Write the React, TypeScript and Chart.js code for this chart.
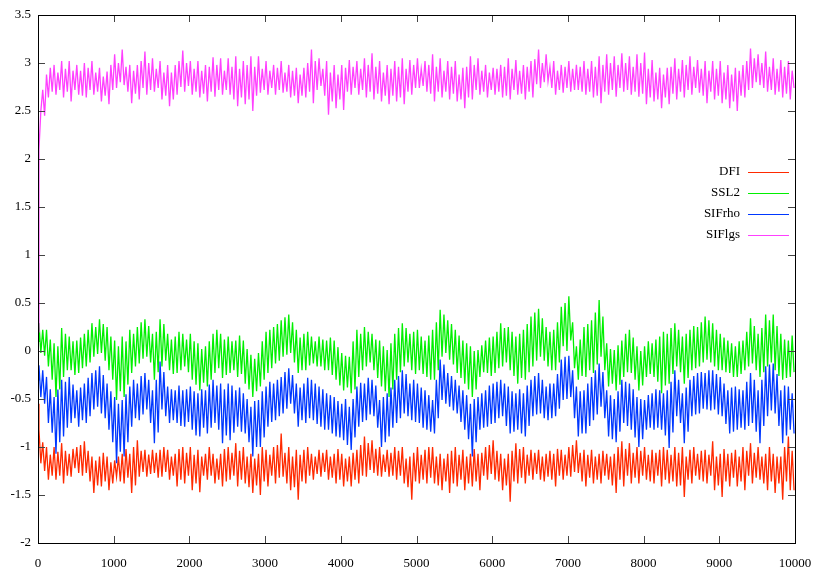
import React, { useEffect, useRef } from "react";
import { Chart, registerables } from "chart.js";

Chart.register(...registerables);

const seriesNames = ["DFI", "SSL2", "SIFrho", "SIFlgs"];
const seriesColors = ["#ff2a00", "#00f000", "#0038ff", "#ff40ff"];
const xTicks = [0, 1000, 2000, 3000, 4000, 5000, 6000, 7000, 8000, 9000, 10000];
const yTicks = [-2, -1.5, -1, -0.5, 0, 0.5, 1, 1.5, 2, 2.5, 3, 3.5];
const blockSize = 100;

// value at step 0 of each series
const startValues = [-0.55, 0.1, -0.3, 0.2];

// per 100-step block, first half: high, low
const dfiA = [
  -0.82, -1.17, -1.0, -1.34, -1.0, -1.34, -0.96, -1.38, -1.07, -1.31, -1.0, -1.27, -0.94, -1.27, -1.1, -1.48, -1.1, -1.41, -1.1, -1.45,
  -1.14, -1.31, -1.07, -1.38, -1.07, -1.48, -0.93, -1.31, -1.03, -1.31, -1.03, -1.27, -1.03, -1.31, -1.03, -1.34, -1.07, -1.41, -1.0, -1.38,
  -1.0, -1.45, -1.03, -1.47, -1.07, -1.34, -1.07, -1.38, -1.07, -1.41, -1.0, -1.34, -0.96, -1.41, -1.0, -1.38, -1.07, -1.48, -1.07, -1.5,
  -1.03, -1.41, -1.0, -1.38, -0.86, -1.31, -1.0, -1.45, -1.03, -1.55, -1.03, -1.38, -1.07, -1.34, -1.03, -1.31, -1.03, -1.34, -1.07, -1.38,
  -1.07, -1.41, -1.1, -1.41, -1.03, -1.38, -0.89, -1.31, -0.93, -1.27, -1.0, -1.31, -1.03, -1.31, -1.0, -1.34, -1.0, -1.38, -1.1, -1.55,
  -1.0, -1.38, -1.03, -1.38, -1.0, -1.38, -1.07, -1.45, -1.07, -1.48, -1.0, -1.41, -1.03, -1.45, -1.07, -1.41, -1.07, -1.45, -1.0, -1.34,
  -0.93, -1.34, -1.07, -1.45, -1.07, -1.57, -0.96, -1.38, -1.0, -1.38, -1.03, -1.34, -1.03, -1.34, -1.07, -1.31, -1.07, -1.41, -1.03, -1.34,
  -1.0, -1.31, -0.93, -1.27, -1.03, -1.41, -1.03, -1.38, -1.07, -1.38, -1.07, -1.34, -1.07, -1.48, -0.94, -1.41, -0.96, -1.38, -1.0, -1.38,
  -1.0, -1.34, -1.03, -1.38, -1.03, -1.41, -1.03, -1.38, -1.0, -1.41, -1.0, -1.52, -1.03, -1.38, -1.07, -1.34, -1.03, -1.38, -0.94, -1.45,
  -1.07, -1.52, -1.07, -1.41, -1.03, -1.41, -1.0, -1.45, -0.96, -1.38, -1.0, -1.34, -1.07, -1.45, -1.07, -1.48, -1.1, -1.55, -0.89, -1.45];
// second half of each block: high, low
const dfiB = [
  -0.95, -1.25, -1.08, -1.3, -1.05, -1.3, -1.04, -1.3, -1.02, -1.22, -0.98, -1.3, -1.04, -1.36, -1.14, -1.4, -1.06, -1.36, -1.16, -1.38,
  -1.1, -1.36, -1.02, -1.32, -1.0, -1.4, -1.04, -1.26, -1.08, -1.28, -1.06, -1.32, -1.0, -1.26, -1.1, -1.3, -1.02, -1.34, -1.06, -1.3,
  -1.08, -1.38, -1.1, -1.3, -1.0, -1.3, -1.12, -1.34, -1.02, -1.36, -1.06, -1.3, -1.04, -1.34, -1.1, -1.42, -1.12, -1.4, -1.0, -1.36,
  -1.08, -1.3, -0.98, -1.32, -1.06, -1.38, -1.1, -1.42, -1.08, -1.36, -1.0, -1.3, -1.1, -1.28, -1.06, -1.26, -1.1, -1.32, -1.02, -1.34,
  -1.12, -1.36, -1.06, -1.34, -0.98, -1.3, -0.96, -1.24, -1.02, -1.3, -1.08, -1.26, -1.06, -1.3, -1.04, -1.3, -1.12, -1.42, -1.06, -1.36,
  -1.08, -1.34, -1.0, -1.32, -1.1, -1.4, -1.12, -1.36, -1.04, -1.38, -1.08, -1.34, -1.1, -1.38, -1.02, -1.36, -1.06, -1.3, -0.98, -1.28,
  -1.04, -1.36, -1.12, -1.4, -1.04, -1.36, -1.02, -1.32, -1.08, -1.3, -1.06, -1.28, -1.1, -1.36, -1.04, -1.34, -1.02, -1.3, -1.08, -1.3,
  -0.98, -1.26, -1.06, -1.36, -1.08, -1.32, -1.1, -1.34, -1.04, -1.3, -1.1, -1.4, -1.0, -1.34, -1.02, -1.3, -1.06, -1.32, -1.04, -1.3,
  -1.08, -1.36, -1.06, -1.3, -1.0, -1.34, -1.08, -1.36, -1.06, -1.4, -1.1, -1.34, -1.0, -1.3, -1.04, -1.36, -1.08, -1.3, -1.1, -1.4,
  -1.02, -1.36, -1.06, -1.32, -1.1, -1.36, -1.04, -1.3, -1.06, -1.32, -1.1, -1.38, -1.0, -1.36, -1.1, -1.38, -1.0, -1.36, -1.04, -1.45];

const ssl2A = [
  0.29, -0.02, 0.22, -0.16, 0.08, -0.48, 0.24, -0.27, 0.15, -0.2, 0.11, -0.23, 0.18, -0.16, 0.29, -0.06, 0.33, -0.02, 0.25, -0.2,
  0.11, -0.51, 0.15, -0.48, 0.22, -0.23, 0.25, -0.13, 0.33, -0.06, 0.18, -0.3, 0.33, -0.16, 0.18, -0.2, 0.15, -0.23, 0.18, -0.16,
  0.18, -0.3, 0.08, -0.41, 0.05, -0.37, 0.18, -0.23, 0.18, -0.28, 0.15, -0.23, 0.11, -0.27, 0.11, -0.34, -0.04, -0.48, -0.02, -0.37,
  0.2, -0.23, 0.25, -0.13, 0.32, -0.06, 0.38, -0.02, 0.22, -0.23, 0.18, -0.2, 0.15, -0.13, 0.15, -0.16, 0.11, -0.2, 0.11, -0.3,
  -0.02, -0.41, -0.06, -0.44, 0.22, -0.27, 0.25, -0.16, 0.18, -0.2, 0.11, -0.37, 0.01, -0.48, 0.18, -0.3, 0.29, -0.16, 0.18, -0.2,
  0.22, -0.2, 0.11, -0.27, 0.22, -0.3, 0.43, -0.06, 0.32, -0.09, 0.22, -0.23, 0.11, -0.34, 0.05, -0.48, 0.01, -0.27, 0.11, -0.23,
  0.15, -0.23, 0.29, -0.16, 0.25, -0.2, 0.15, -0.34, 0.22, -0.3, 0.36, -0.16, 0.44, -0.06, 0.25, -0.16, 0.22, -0.2, 0.46, 0.05,
  0.57, 0.11, 0.05, -0.3, 0.25, -0.27, 0.32, -0.23, 0.53, -0.06, 0.08, -0.37, 0.01, -0.41, 0.11, -0.27, 0.22, -0.23, 0.05, -0.41,
  0.05, -0.27, 0.08, -0.27, 0.15, -0.44, 0.18, -0.34, 0.29, -0.16, 0.15, -0.34, 0.22, -0.2, 0.25, -0.16, 0.36, -0.09, 0.29, -0.16,
  0.18, -0.2, 0.11, -0.23, 0.05, -0.27, 0.11, -0.2, 0.34, -0.13, 0.18, -0.27, 0.38, -0.16, 0.38, -0.2, 0.18, -0.3, 0.11, -0.27];
const ssl2B = [
  0.22, -0.05, 0.12, -0.3, 0.05, -0.4, 0.18, -0.2, 0.1, -0.25, 0.14, -0.18, 0.22, -0.12, 0.25, -0.03, 0.28, -0.1, 0.15, -0.3,
  0.05, -0.42, 0.1, -0.35, 0.18, -0.16, 0.3, -0.08, 0.26, -0.12, 0.2, -0.22, 0.28, -0.1, 0.12, -0.24, 0.2, -0.2, 0.12, -0.22,
  0.1, -0.35, 0.02, -0.33, 0.1, -0.3, 0.22, -0.18, 0.12, -0.25, 0.1, -0.2, 0.16, -0.24, 0.02, -0.4, -0.08, -0.42, 0.1, -0.3,
  0.22, -0.18, 0.28, -0.1, 0.35, -0.04, 0.3, -0.12, 0.14, -0.2, 0.2, -0.15, 0.1, -0.16, 0.12, -0.2, 0.14, -0.25, 0.04, -0.36,
  -0.05, -0.38, 0.1, -0.4, 0.18, -0.2, 0.2, -0.12, 0.12, -0.28, 0.05, -0.42, 0.08, -0.4, 0.24, -0.22, 0.24, -0.12, 0.2, -0.24,
  0.15, -0.24, 0.16, -0.3, 0.3, -0.2, 0.38, -0.02, 0.28, -0.14, 0.16, -0.28, 0.08, -0.4, 0.0, -0.4, 0.06, -0.22, 0.14, -0.26,
  0.2, -0.18, 0.24, -0.12, 0.2, -0.26, 0.18, -0.28, 0.28, -0.22, 0.4, -0.1, 0.34, -0.1, 0.2, -0.2, 0.3, -0.12, 0.5, 0.0,
  0.3, -0.18, 0.12, -0.26, 0.28, -0.2, 0.4, -0.14, 0.36, -0.2, 0.02, -0.34, 0.06, -0.35, 0.18, -0.22, 0.14, -0.3, 0.0, -0.36,
  0.1, -0.24, 0.12, -0.32, 0.2, -0.36, 0.24, -0.24, 0.22, -0.22, 0.18, -0.28, 0.26, -0.18, 0.3, -0.12, 0.32, -0.12, 0.22, -0.2,
  0.14, -0.22, 0.08, -0.27, 0.1, -0.24, 0.2, -0.16, 0.26, -0.2, 0.24, -0.22, 0.32, -0.12, 0.26, -0.26, 0.12, -0.28, 0.16, -0.22];

const sifrhoA = [
  -0.15, -0.48, -0.27, -0.75, -0.48, -1.07, -0.3, -0.89, -0.27, -0.75, -0.41, -0.79, -0.34, -0.75, -0.23, -0.61, -0.16, -0.65, -0.34, -0.82,
  -0.48, -1.17, -0.51, -1.1, -0.37, -0.79, -0.34, -0.72, -0.23, -0.61, -0.41, -0.96, -0.11, -0.61, -0.37, -0.75, -0.41, -0.75, -0.41, -0.79,
  -0.37, -0.82, -0.44, -0.89, -0.41, -0.86, -0.3, -0.75, -0.34, -0.96, -0.34, -0.93, -0.41, -0.79, -0.44, -0.86, -0.58, -1.1, -0.51, -1.0,
  -0.37, -0.79, -0.34, -0.72, -0.27, -0.65, -0.18, -0.55, -0.34, -0.79, -0.34, -0.75, -0.3, -0.72, -0.37, -0.79, -0.44, -0.82, -0.48, -0.89,
  -0.55, -0.93, -0.58, -1.03, -0.37, -0.79, -0.34, -0.72, -0.3, -0.68, -0.51, -1.0, -0.44, -0.89, -0.3, -0.75, -0.2, -0.65, -0.34, -0.72,
  -0.34, -0.75, -0.41, -0.82, -0.51, -0.86, -0.09, -0.51, -0.23, -0.58, -0.3, -0.65, -0.41, -0.82, -0.55, -1.1, -0.48, -0.82, -0.41, -0.79,
  -0.34, -0.75, -0.3, -0.68, -0.37, -0.86, -0.44, -0.82, -0.44, -0.89, -0.3, -0.68, -0.23, -0.65, -0.37, -0.72, -0.34, -0.68, -0.09, -0.51,
  -0.05, -0.48, -0.37, -0.89, -0.41, -0.86, -0.27, -0.72, -0.13, -0.58, -0.41, -0.89, -0.5, -0.95, -0.3, -0.75, -0.34, -0.82, -0.48, -1.0,
  -0.51, -0.82, -0.44, -0.82, -0.41, -0.82, -0.41, -1.01, -0.2, -0.68, -0.44, -0.96, -0.3, -0.68, -0.23, -0.65, -0.23, -0.61, -0.2, -0.61,
  -0.27, -0.68, -0.41, -0.86, -0.37, -0.82, -0.41, -0.82, -0.23, -0.75, -0.41, -0.96, -0.16, -0.68, -0.13, -0.65, -0.41, -0.96, -0.37, -0.82];
const sifrhoB = [
  -0.2, -0.55, -0.4, -0.85, -0.4, -0.95, -0.32, -0.8, -0.35, -0.7, -0.38, -0.72, -0.28, -0.68, -0.2, -0.58, -0.25, -0.7, -0.42, -0.95,
  -0.55, -1.05, -0.45, -0.95, -0.3, -0.7, -0.26, -0.66, -0.3, -0.75, -0.3, -0.85, -0.22, -0.68, -0.4, -0.72, -0.36, -0.78, -0.4, -0.74,
  -0.42, -0.88, -0.4, -0.8, -0.35, -0.8, -0.36, -0.82, -0.4, -0.88, -0.36, -0.85, -0.38, -0.84, -0.5, -0.95, -0.52, -1.0, -0.42, -0.9,
  -0.32, -0.74, -0.3, -0.68, -0.22, -0.6, -0.25, -0.65, -0.38, -0.72, -0.28, -0.7, -0.34, -0.76, -0.4, -0.82, -0.46, -0.86, -0.52, -0.9,
  -0.5, -0.98, -0.5, -0.9, -0.33, -0.74, -0.28, -0.66, -0.36, -0.8, -0.48, -0.95, -0.38, -0.8, -0.26, -0.7, -0.24, -0.68, -0.3, -0.74,
  -0.38, -0.8, -0.46, -0.84, -0.3, -0.7, -0.14, -0.55, -0.26, -0.62, -0.36, -0.74, -0.46, -0.92, -0.5, -0.95, -0.44, -0.8, -0.36, -0.76,
  -0.32, -0.7, -0.34, -0.78, -0.42, -0.84, -0.4, -0.86, -0.36, -0.78, -0.26, -0.66, -0.3, -0.7, -0.34, -0.7, -0.24, -0.6, -0.06, -0.5,
  -0.2, -0.7, -0.42, -0.86, -0.34, -0.78, -0.2, -0.66, -0.22, -0.7, -0.46, -0.92, -0.42, -0.84, -0.32, -0.78, -0.4, -0.9, -0.5, -0.92,
  -0.46, -0.8, -0.4, -0.8, -0.44, -0.88, -0.32, -0.85, -0.3, -0.75, -0.38, -0.84, -0.26, -0.66, -0.22, -0.6, -0.2, -0.62, -0.24, -0.66,
  -0.34, -0.76, -0.38, -0.84, -0.4, -0.8, -0.32, -0.78, -0.3, -0.84, -0.3, -0.78, -0.14, -0.62, -0.24, -0.78, -0.36, -0.88, -0.44, -0.86];

const siflgsA = [
  2.1, 2.5, 2.88, 2.64, 2.98, 2.67, 3.02, 2.64, 3.02, 2.6, 2.98, 2.67, 3.0, 2.64, 3.02, 2.67, 2.95, 2.6, 2.91, 2.57,
  3.09, 2.74, 3.14, 2.77, 2.98, 2.58, 2.98, 2.62, 3.12, 2.67, 3.05, 2.7, 3.02, 2.62, 2.98, 2.55, 2.98, 2.67, 3.13, 2.7,
  3.02, 2.67, 3.02, 2.64, 2.98, 2.6, 3.06, 2.65, 3.05, 2.67, 3.05, 2.67, 3.07, 2.55, 3.02, 2.57, 3.07, 2.5, 3.07, 2.69,
  3.02, 2.67, 2.98, 2.67, 3.02, 2.69, 2.98, 2.64, 2.95, 2.58, 2.95, 2.64, 3.14, 2.58, 3.05, 2.76, 3.02, 2.46, 2.98, 2.53,
  2.98, 2.51, 3.03, 2.67, 3.02, 2.67, 3.05, 2.64, 3.1, 2.62, 3.02, 2.6, 2.98, 2.57, 3.02, 2.6, 3.05, 2.57, 3.03, 2.67,
  3.05, 2.74, 3.02, 2.7, 3.09, 2.6, 3.05, 2.64, 3.02, 2.62, 3.02, 2.6, 2.95, 2.53, 3.07, 2.62, 3.05, 2.67, 2.98, 2.64,
  2.95, 2.67, 2.98, 2.64, 3.05, 2.62, 3.03, 2.67, 2.98, 2.62, 3.02, 2.64, 3.14, 2.74, 3.09, 2.81, 3.02, 2.67, 2.98, 2.69,
  3.02, 2.7, 2.98, 2.72, 3.02, 2.67, 3.02, 2.64, 3.07, 2.58, 3.09, 2.67, 3.07, 2.65, 3.1, 2.7, 3.07, 2.67, 3.09, 2.65,
  3.11, 2.57, 3.03, 2.6, 2.95, 2.53, 2.95, 2.57, 3.05, 2.62, 3.03, 2.64, 3.07, 2.67, 3.03, 2.69, 3.02, 2.58, 3.02, 2.62,
  3.02, 2.58, 2.98, 2.53, 2.95, 2.5, 2.98, 2.64, 3.15, 2.74, 3.09, 2.77, 3.12, 2.7, 3.05, 2.67, 3.03, 2.64, 3.02, 2.62];
const siflgsB = [
  2.72, 2.45, 2.95, 2.7, 2.9, 2.72, 2.94, 2.7, 2.92, 2.72, 2.92, 2.66, 2.95, 2.72, 2.9, 2.7, 2.86, 2.66, 2.98, 2.72,
  3.0, 2.8, 2.96, 2.7, 2.92, 2.68, 3.02, 2.74, 3.0, 2.72, 2.94, 2.74, 2.9, 2.66, 2.9, 2.62, 3.02, 2.75, 3.0, 2.76,
  2.94, 2.7, 2.92, 2.68, 2.96, 2.7, 2.98, 2.72, 2.92, 2.72, 2.96, 2.62, 2.94, 2.64, 2.98, 2.62, 2.96, 2.66, 2.94, 2.72,
  2.92, 2.74, 2.95, 2.72, 2.9, 2.7, 2.92, 2.66, 2.88, 2.66, 3.0, 2.7, 3.02, 2.72, 2.94, 2.66, 2.9, 2.6, 2.88, 2.62,
  2.95, 2.7, 2.96, 2.74, 2.94, 2.72, 2.98, 2.7, 2.96, 2.68, 2.9, 2.66, 2.94, 2.66, 2.96, 2.64, 2.94, 2.7, 2.98, 2.74,
  2.94, 2.76, 2.98, 2.68, 2.96, 2.7, 2.92, 2.7, 2.96, 2.68, 2.88, 2.62, 2.96, 2.64, 2.98, 2.72, 2.92, 2.7, 2.9, 2.72,
  2.94, 2.7, 2.96, 2.66, 2.94, 2.72, 2.92, 2.68, 2.96, 2.7, 3.04, 2.78, 3.0, 2.8, 2.96, 2.74, 2.92, 2.72, 2.96, 2.74,
  2.94, 2.72, 2.96, 2.7, 2.94, 2.7, 2.96, 2.66, 2.98, 2.7, 3.0, 2.72, 2.98, 2.74, 3.0, 2.72, 2.96, 2.7, 3.0, 2.68,
  2.94, 2.64, 2.9, 2.62, 2.88, 2.64, 2.96, 2.68, 2.94, 2.7, 2.98, 2.72, 2.96, 2.74, 2.94, 2.66, 2.92, 2.7, 2.94, 2.66,
  2.9, 2.62, 2.88, 2.6, 2.92, 2.66, 3.02, 2.72, 3.05, 2.8, 3.0, 2.74, 2.96, 2.72, 2.94, 2.7, 2.96, 2.68, 2.92, 2.74];

const firstHalves = [dfiA, ssl2A, sifrhoA, siflgsA];
const secondHalves = [dfiB, ssl2B, sifrhoB, siflgsB];

const FONT = '"Liberation Serif", "Times New Roman", serif';

function buildPoints(i: number) {
  const a = firstHalves[i];
  const b = secondHalves[i];
  const pts: { x: number; y: number }[] = [{ x: 0, y: startValues[i] }];
  const blocks = a.length / 2;
  const q = blockSize / 4;
  for (let k = 0; k < blocks; k++) {
    const base = k * blockSize;
    pts.push({ x: base + q * 0.5, y: a[2 * k] });
    pts.push({ x: base + q * 1.5, y: a[2 * k + 1] });
    pts.push({ x: base + q * 2.5, y: b[2 * k] });
    pts.push({ x: base + q * 3.5, y: b[2 * k + 1] });
  }
  return pts;
}

const framePlugin = {
  id: "gnuframe",
  afterDatasetsDraw(chart: any) {
    const { ctx, chartArea, scales } = chart;
    const { left, right, top, bottom } = chartArea;
    const xs = scales.x;
    const ys = scales.y;
    ctx.save();
    ctx.lineWidth = 1;
    ctx.strokeStyle = "#444";
    ctx.beginPath();
    const tl = 7;
    for (const v of yTicks) {
      const py = Math.round(ys.getPixelForValue(v)) + 0.5;
      ctx.moveTo(left, py);
      ctx.lineTo(left + tl, py);
      ctx.moveTo(right, py);
      ctx.lineTo(right - tl, py);
    }
    for (const v of xTicks) {
      const px = Math.round(xs.getPixelForValue(v)) + 0.5;
      ctx.moveTo(px, bottom);
      ctx.lineTo(px, bottom - tl);
      ctx.moveTo(px, top);
      ctx.lineTo(px, top + tl);
    }
    ctx.stroke();
    ctx.strokeStyle = "#000";
    ctx.strokeRect(Math.round(left) + 0.5, Math.round(top) + 0.5, Math.round(right - left), Math.round(bottom - top));

    // legend (gnuplot style: label right-aligned, line sample to its right)
    ctx.font = `13px ${FONT}`;
    ctx.textAlign = "right";
    ctx.textBaseline = "middle";
    seriesNames.forEach((name, i) => {
      const yy = top + 157 + i * 21;
      ctx.fillStyle = "#000";
      ctx.fillText(name, right - 55, yy);
      ctx.strokeStyle = seriesColors[i];
      ctx.beginPath();
      ctx.moveTo(right - 47, Math.round(yy) + 0.5);
      ctx.lineTo(right - 6, Math.round(yy) + 0.5);
      ctx.stroke();
    });
    ctx.restore();
  },
};

export default function App() {
  const ref = useRef<HTMLCanvasElement | null>(null);
  useEffect(() => {
    if (!ref.current) return;
    const datasets = seriesNames.map((name, i) => ({
      label: name,
      data: buildPoints(i),
      borderColor: seriesColors[i],
      backgroundColor: seriesColors[i],
      borderWidth: 1.3,
      pointRadius: 0,
      tension: 0,
      fill: false,
      order: seriesNames.length - i,
    }));
    const chart = new Chart(ref.current, {
      type: "line",
      data: { datasets },
      options: {
        animation: false,
        responsive: false,
        devicePixelRatio: 1,
        layout: { padding: { top: 15, right: 18, left: 0, bottom: 0 } },
        plugins: { legend: { display: false }, tooltip: { enabled: false } },
        scales: {
          x: {
            type: "linear",
            min: 0,
            max: 10000,
            grid: { display: false, drawTicks: false },
            border: { display: false },
            afterBuildTicks: (s: any) => {
              s.ticks = xTicks.map((v) => ({ value: v }));
            },
            afterFit: (s: any) => {
              s.height = 26;
              s.paddingLeft = 0;
              s.paddingRight = 0;
            },
            ticks: {
              autoSkip: false,
              maxRotation: 0,
              padding: 13,
              color: "#000",
              font: { family: FONT, size: 13 },
              callback: (v: any) => String(v),
            },
          },
          y: {
            type: "linear",
            min: -2,
            max: 3.5,
            grid: { display: false, drawTicks: false },
            border: { display: false },
            afterBuildTicks: (s: any) => {
              s.ticks = yTicks.map((v) => ({ value: v }));
            },
            afterFit: (s: any) => {
              s.width = 38;
              s.paddingTop = 0;
              s.paddingBottom = 0;
            },
            ticks: {
              autoSkip: false,
              padding: 7,
              color: "#000",
              font: { family: FONT, size: 13 },
              callback: (v: any) => String(v),
            },
          },
        },
      },
      plugins: [framePlugin],
    });
    return () => chart.destroy();
  }, []);
  return (
    <div style={{ position: "absolute", left: 0, top: 0, width: 813, height: 569, background: "#fff" }}>
      <canvas ref={ref} width={813} height={569} style={{ display: "block" }} />
    </div>
  );
}
